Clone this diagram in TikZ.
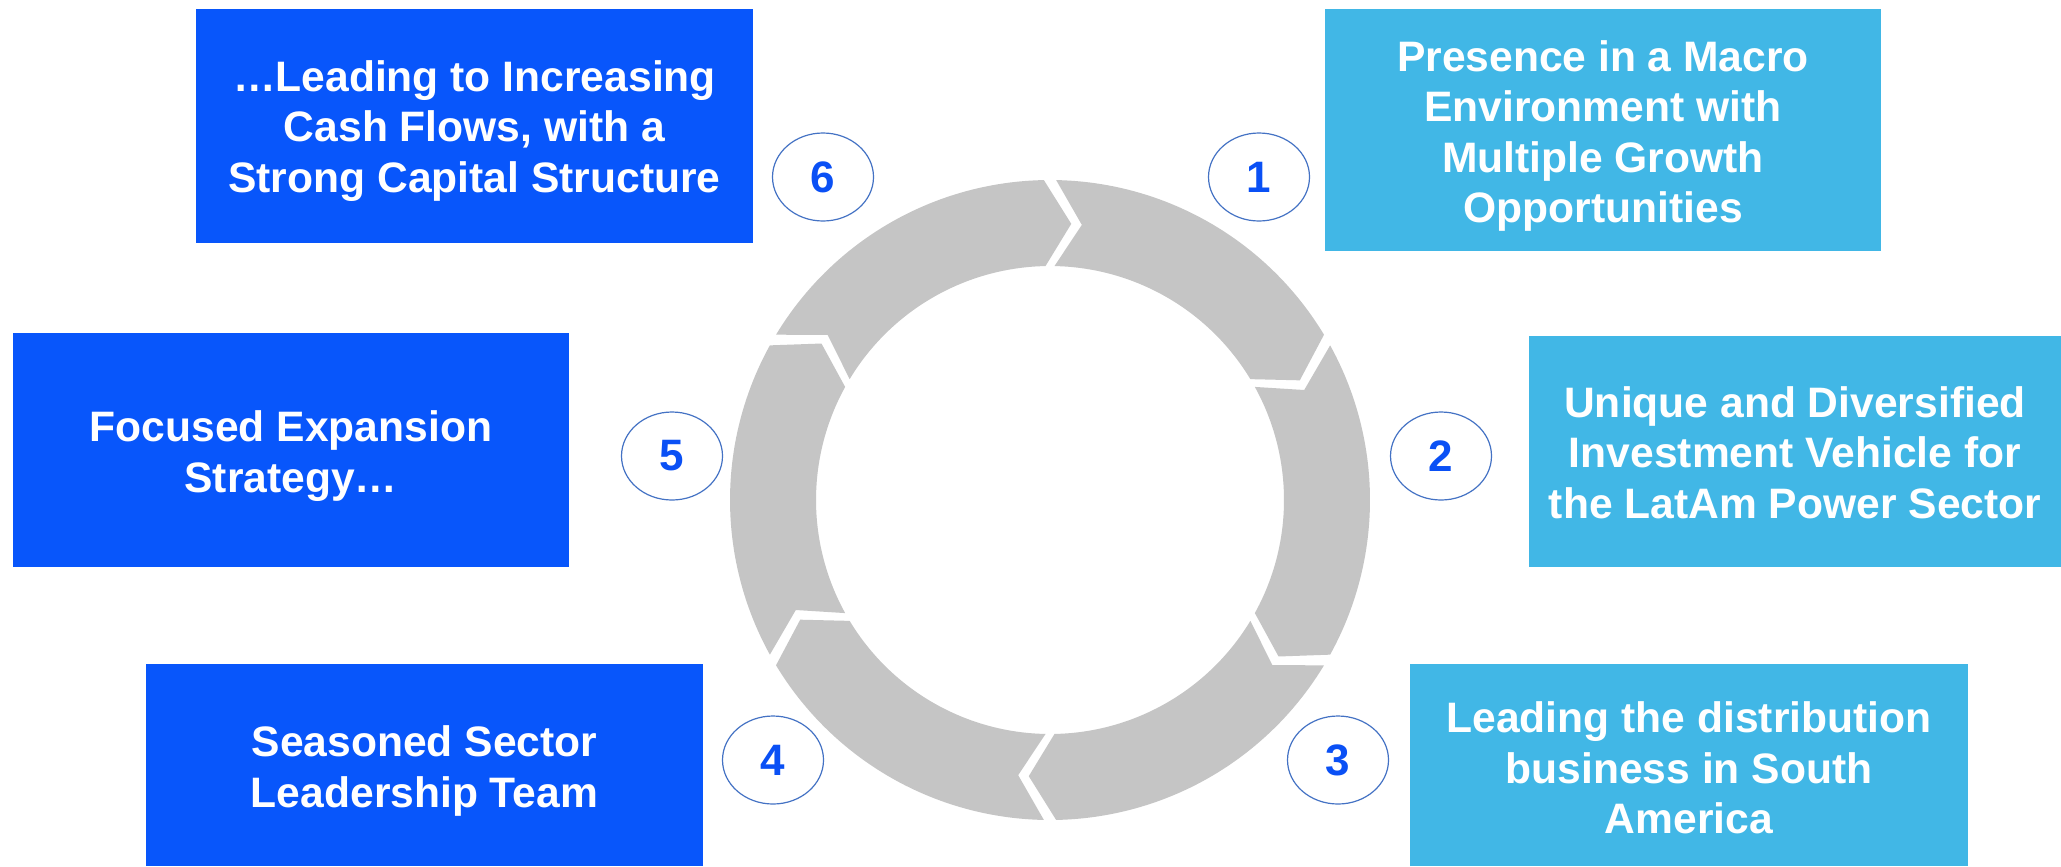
\documentclass[tikz,border=0pt]{standalone}
\usepackage{fontspec}
\setmainfont{Liberation Sans}
\usetikzlibrary{shapes.geometric}
\definecolor{darkbox}{RGB}{8,86,251}
\definecolor{lightbox}{RGB}{65,183,230}
\definecolor{ringgray}{RGB}{197,197,197}
\definecolor{numblue}{RGB}{10,80,245}
\definecolor{ellline}{RGB}{68,114,196}
\tikzset{
  boxtext/.style={inner sep=0pt, outer sep=0pt, align=center, text=white,
    font=\fontsize{21.3bp}{25.3bp}\selectfont\bfseries},
  darkbx/.style={inner sep=0pt, outer sep=0pt, fill=darkbox},
  lightbx/.style={inner sep=0pt, outer sep=0pt, fill=lightbox},
  numell/.style={ellipse, draw=ellline, line width=0.6bp, fill=white,
    minimum width=50.5bp, minimum height=44bp, inner sep=0pt,
    text=numblue, font=\fontsize{22bp}{26bp}\selectfont\bfseries}
}
\begin{document}
\begin{tikzpicture}[x=0.5bp,y=-0.5bp]
\useasboundingbox (0,0) rectangle (2061,866);
\fill[white] (0,0) rectangle (2061,866);
% ring segments
\foreach \i in {0,...,5}{
  \pgfmathsetmacro\a{-90+60*\i+1.1}
  \pgfmathsetmacro\b{-30+60*\i-1.1}
  \fill[ringgray] plot[domain=\a:\b, samples=50] ({1050+320*cos(\x)},{500+320*sin(\x)})
    -- ({1050+277*cos(\b+5.5)},{500+277*sin(\b+5.5)})
    -- plot[domain=\b:\a, samples=50] ({1050+234*cos(\x)},{500+234*sin(\x)})
    -- ({1050+277*cos(\a+5.5)},{500+277*sin(\a+5.5)}) -- cycle;
}
% boxes
\node[darkbx, minimum width=278.5bp, minimum height=117bp] (b6) at (474.5,126) {};
\node[lightbx, minimum width=278bp, minimum height=121bp] (b1) at (1603,130) {};
\node[darkbx, minimum width=278bp, minimum height=117bp] (b5) at (291,450) {};
\node[lightbx, minimum width=266bp, minimum height=115.5bp] (b2) at (1795,451.5) {};
\node[darkbx, minimum width=278.5bp, minimum height=101bp] (b4) at (424.5,765) {};
\node[lightbx, minimum width=279bp, minimum height=101bp] (b3) at (1689,765) {};
% box texts
\node[boxtext] (t6) at ([yshift=-2.5bp]b6.center)
  {\ldots Leading to Increasing\\Cash Flows, with a\\Strong Capital Structure};
\node[boxtext] (t1) at ([yshift=-3bp]b1.center)
  {Presence in a Macro\\Environment with\\Multiple Growth\\Opportunities};
\node[boxtext] (t5) at ([yshift=-3bp]b5.center)
  {Focused Expansion\\Strategy\ldots};
\node[boxtext] (t2) at ([yshift=-0.5bp]b2.center)
  {Unique and Diversified\\Investment Vehicle for\\the LatAm Power Sector};
\node[boxtext] (t4) at ([yshift=-3bp]b4.center)
  {Seasoned Sector\\Leadership Team};
\node[boxtext] (t3) at ([yshift=-1.5bp]b3.center)
  {Leading the distribution\\business in South\\America};
% number ellipses
\node[numell] (n6) at (823,177) {6};
\node[numell] (n1) at (1259,177) {1};
\node[numell] (n5) at (672,456) {5};
\node[numell] (n2) at (1441,456) {2};
\node[numell] (n4) at (773,760) {4};
\node[numell] (n3) at (1338,760) {3};
\end{tikzpicture}
\end{document}
